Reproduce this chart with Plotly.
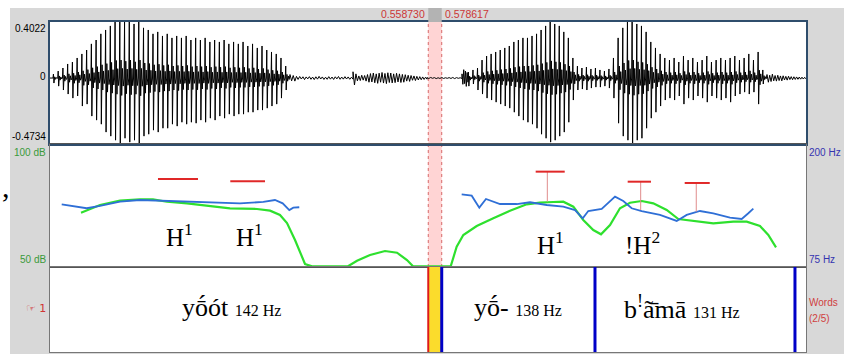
import plotly.graph_objects as go

# ---------------- data ----------------
T_VIEW = (0.0, 1.11669)                 # visible time window (s)
SEL = (0.558730, 0.578617)              # cursor selection (s)
WAVE_RANGE = (-0.4734, 0.4022)
DB_RANGE = (50, 100)
HZ_RANGE = (75, 200)

# voiced stretches of the waveform: (start, end) and per-period (peak, trough) amplitudes
seg_a_t = (0.0044, 0.3545)
seg_a_amp = [(0.029, 0.036), (0.050, 0.058), (0.072, 0.086), (0.101, 0.115), (0.115, 0.144),
             (0.144, 0.129), (0.173, 0.201), (0.201, 0.187), (0.245, 0.273), (0.273, 0.302),
             (0.317, 0.331), (0.345, 0.388), (0.374, 0.417), (0.420, 0.446), (0.430, 0.480),
             (0.403, 0.432), (0.430, 0.460), (0.388, 0.446), (0.430, 0.490), (0.360, 0.417),
             (0.345, 0.403), (0.317, 0.374), (0.331, 0.388), (0.302, 0.360), (0.317, 0.360),
             (0.288, 0.331), (0.302, 0.345), (0.288, 0.317), (0.302, 0.331), (0.273, 0.317),
             (0.288, 0.324), (0.273, 0.302), (0.288, 0.317), (0.259, 0.288), (0.273, 0.302),
             (0.259, 0.273), (0.273, 0.288), (0.245, 0.259), (0.259, 0.273), (0.245, 0.259),
             (0.259, 0.259), (0.230, 0.245), (0.245, 0.245), (0.216, 0.230), (0.230, 0.230),
             (0.201, 0.216), (0.187, 0.201), (0.173, 0.187), (0.144, 0.144), (0.086, 0.086)]
seg_f_t = (0.6174, 0.7784)
seg_f_amp = [(0.043, 0.058), (0.058, 0.043), (0.072, 0.086), (0.129, 0.115), (0.158, 0.144),
             (0.173, 0.158), (0.187, 0.173), (0.201, 0.187), (0.216, 0.201), (0.230, 0.216),
             (0.259, 0.245), (0.273, 0.273), (0.288, 0.302), (0.288, 0.317), (0.302, 0.331),
             (0.317, 0.360), (0.345, 0.403), (0.374, 0.432), (0.410, 0.460), (0.388, 0.446),
             (0.374, 0.417), (0.331, 0.388), (0.288, 0.317), (0.144, 0.158)]
seg_g_t = (0.7784, 0.8316)
seg_g_amp = [(0.086, 0.086), (0.072, 0.079), (0.079, 0.086), (0.065, 0.072),
             (0.072, 0.065), (0.058, 0.065), (0.050, 0.058), (0.065, 0.072)]
seg_h_t = (0.8316, 1.0591)
seg_h_amp = [(0.144, 0.144), (0.288, 0.324), (0.360, 0.417), (0.420, 0.446), (0.430, 0.475),
             (0.388, 0.446), (0.374, 0.432), (0.331, 0.360), (0.259, 0.288), (0.216, 0.245),
             (0.173, 0.201), (0.144, 0.158), (0.129, 0.144), (0.144, 0.158), (0.115, 0.129),
             (0.158, 0.187), (0.129, 0.144), (0.144, 0.158), (0.115, 0.129), (0.129, 0.144),
             (0.158, 0.173), (0.115, 0.129), (0.129, 0.144), (0.144, 0.158), (0.129, 0.144),
             (0.144, 0.173), (0.158, 0.129), (0.129, 0.115), (0.144, 0.101), (0.173, 0.115),
             (0.129, 0.101), (0.187, 0.187), (0.058, 0.043)]

# unvoiced / silent stretches: (start, end) and raw sample values
seg_b_t = (0.3545, 0.4476)
seg_b_val = [0.025, -0.020, 0.018, -0.022, 0.012, -0.010, 0.011, -0.007, 0.009, -0.011,
             0.008, -0.006, 0.010, -0.009, 0.007, -0.011, 0.009, -0.008, 0.012, -0.007,
             0.008, -0.010, 0.006, -0.009, 0.010, -0.008, 0.007, -0.010, 0.009, -0.006,
             0.011, -0.009, 0.007, -0.008, 0.010, -0.007, 0.008, -0.009, 0.006, -0.008]
seg_c_t = (0.4476, 0.5569)
seg_c_val = [0.045, -0.050, 0.030, -0.020, 0.015, -0.018, 0.020, -0.015, 0.018, -0.022,
             0.025, -0.030, 0.032, -0.028, 0.036, -0.034, 0.030, -0.038, 0.035, -0.030,
             0.040, -0.036, 0.033, -0.040, 0.038, -0.032, 0.036, -0.035, 0.030, -0.033,
             0.034, -0.028, 0.030, -0.032, 0.026, -0.030, 0.024, -0.022, 0.020, -0.024,
             0.018, -0.016, 0.015, -0.018, 0.012, -0.014, 0.010, -0.012, 0.008, -0.010,
             0.006, -0.008]
seg_d_t = (0.5569, 0.6086)
seg_d_val = [0.003, -0.003, 0.004, -0.002, 0.003, -0.004, 0.002, -0.003, 0.004, -0.003,
             0.002, -0.002, 0.003, -0.003, 0.004, -0.004, 0.003, -0.002, 0.002, -0.003]
seg_e_t = (0.6086, 0.6174)
seg_e_val = [0.030, -0.045, 0.060, -0.040, 0.050, -0.060, 0.040, -0.030]
seg_i_t = (1.0591, 1.1167)
seg_i_val = [0.025, -0.030, 0.020, -0.025, 0.028, -0.020, 0.018, -0.022, 0.020, -0.018,
             0.015, -0.020, 0.016, -0.014, 0.012, -0.015, 0.013, -0.011, 0.010, -0.012,
             0.009, -0.010, 0.008, -0.009, 0.007, -0.008, 0.006, -0.007, 0.005, -0.006]

# intensity (dB)
int_t = [0.0458, 0.0739, 0.1034, 0.1329, 0.1521, 0.1728, 0.2024, 0.2319, 0.2659, 0.3058,
         0.3250, 0.3397, 0.3501, 0.3619, 0.3767, 0.3870, 0.4402, 0.4535, 0.4727, 0.4948,
         0.5126, 0.5273, 0.5362, 0.5919, 0.6007, 0.6105, 0.6303, 0.6548, 0.6795, 0.7041,
         0.7238, 0.7434, 0.7582, 0.7730, 0.7877, 0.8025, 0.8139, 0.8272, 0.8419, 0.8567,
         0.8740, 0.8911, 0.9109, 0.9281, 0.9502, 0.9798, 1.0093, 1.0291, 1.0487, 1.0610,
         1.0724]
int_db = [72.07, 75.20, 76.95, 77.52, 77.52, 76.54, 75.89, 74.92, 73.86, 73.58,
          72.89, 71.14, 67.89, 60.98, 51.22, 50.30, 50.30, 52.56, 54.88, 56.50,
          55.81, 52.85, 50.30, 50.30, 58.25, 63.00, 66.67, 69.80, 72.89, 75.49,
          76.14, 76.42, 76.54, 74.51, 69.10, 65.04, 63.29, 67.07, 73.86, 76.14,
          76.83, 75.89, 73.17, 69.51, 68.70, 67.76, 68.41, 68.41, 66.67, 63.00,
          58.00]

# pitch (Hz), two voiced stretches
f0_t_1 = [0.0173, 0.0295, 0.0542, 0.0739, 0.1034, 0.1329, 0.1625, 0.1920, 0.2216, 0.2511,
          0.2806, 0.3151, 0.3323, 0.3437, 0.3535, 0.3594, 0.3682]
f0_hz_1 = [138.7, 137.3, 134.7, 137.0, 141.4, 143.1, 142.4, 141.4, 140.4, 139.7,
           139.7, 141.1, 143.1, 139.7, 132.9, 135.3, 135.7]
f0_t_2 = [0.6081, 0.6229, 0.6341, 0.6440, 0.6647, 0.6894, 0.7090, 0.7337, 0.7582, 0.7755,
          0.7869, 0.7951, 0.8149, 0.8272, 0.8346, 0.8468, 0.8592, 0.8740, 0.9010, 0.9257,
          0.9405, 0.9601, 0.9798, 1.0044, 1.0217, 1.0315, 1.0389]
f0_hz_2 = [148.9, 147.5, 135.3, 144.1, 139.0, 139.0, 140.8, 138.0, 136.3, 132.9,
           124.5, 131.9, 134.0, 141.4, 146.5, 142.1, 134.7, 131.9, 127.9, 121.8,
           127.9, 131.9, 129.6, 125.1, 123.8, 129.6, 134.3]

# tone targets (Hz): bar start, bar end, level, stem time (None = no stem), stem bottom
tgt_t0 = [0.1595, 0.2663, 0.7174, 0.8533, 0.9375]
tgt_t1 = [0.2186, 0.3176, 0.7603, 0.8877, 0.9745]
tgt_hz = [164.4, 162.1, 171.9, 161.7, 160.4]
stem_t = [None, None, 0.7346, 0.8725, 0.9546]
stem_lo = [None, None, 141.4, 132.9, 131.2]

tone_text = ["H<sup>1</sup>", "H<sup>1</sup>", "H<sup>1</sup>", "!H<sup>2</sup>"]
tone_t = [0.192, 0.294, 0.740, 0.8752]
tone_hz = [107.5, 107.5, 98.9, 98.9]

# word tier
bound_t = [0.578617, 0.8050, 1.1004]
word_text = ["yṓót", "yṓ-", "b<sup>!</sup>ã̄mā"]
word_hz = ["142 Hz", "138 Hz", "131 Hz"]
word_t = [0.2688, 0.6915, 0.9335]

# ---------------- build ----------------
W, H = 849, 354
def px(x): return x / W
def py(y): return 1 - y / H

def voiced(seg_t, amps):
    t0, t1 = seg_t
    n = len(amps)
    P = (t1 - t0) / n
    fr = [0.0, 0.10, 0.20, 0.36, 0.50, 0.66, 0.82]
    xs, ys = [], []
    for i, (top, bot) in enumerate(amps):
        vals = [0.0, top, -bot, 0.30 * top, -0.26 * bot, 0.16 * top, -0.12 * bot]
        for f, v in zip(fr, vals):
            xs.append(t0 + (i + f) * P)
            ys.append(v)
    return xs, ys

def raw(seg_t, vals):
    t0, t1 = seg_t
    n = len(vals)
    return [t0 + (t1 - t0) * k / (n - 1) for k in range(n)], list(vals)

wx, wy = [0.0], [0.0]
for part in [voiced(seg_a_t, seg_a_amp), raw(seg_b_t, seg_b_val), raw(seg_c_t, seg_c_val),
             raw(seg_d_t, seg_d_val), raw(seg_e_t, seg_e_val), voiced(seg_f_t, seg_f_amp),
             voiced(seg_g_t, seg_g_amp), voiced(seg_h_t, seg_h_amp), raw(seg_i_t, seg_i_val)]:
    wx += part[0]
    wy += part[1]

fig = go.Figure()
fig.add_trace(go.Scatter(x=wx, y=wy, mode="lines", line=dict(color="black", width=1),
                         xaxis="x", yaxis="y", hoverinfo="skip"))
fig.add_trace(go.Scatter(x=f0_t_1 + [None] + f0_t_2, y=f0_hz_1 + [None] + f0_hz_2,
                         mode="lines", line=dict(color="#2f6fd6", width=1.8),
                         xaxis="x2", yaxis="y4", hoverinfo="skip"))
fig.add_trace(go.Scatter(x=int_t, y=int_db, mode="lines", line=dict(color="#2ee02e", width=2.2),
                         xaxis="x2", yaxis="y2", hoverinfo="skip"))
sx, sy = [], []
for t, lo, hz in zip(stem_t, stem_lo, tgt_hz):
    if t is not None:
        sx += [t, t, None]
        sy += [hz, lo, None]
fig.add_trace(go.Scatter(x=sx, y=sy, mode="lines", line=dict(color="#e08c8c", width=1),
                         xaxis="x2", yaxis="y4", hoverinfo="skip"))
bx, by = [], []
for a, b, hz in zip(tgt_t0, tgt_t1, tgt_hz):
    bx += [a, b, None]
    by += [hz, hz, None]
fig.add_trace(go.Scatter(x=bx, y=by, mode="lines", line=dict(color="#e02828", width=2),
                         xaxis="x2", yaxis="y4", hoverinfo="skip"))

xdom = [px(50), px(806)]
ax_common = dict(showticklabels=False, ticks="", showgrid=False, zeroline=False, fixedrange=True)
fig.update_layout(
    width=W, height=H, margin=dict(l=0, r=0, t=0, b=0),
    paper_bgcolor="white", plot_bgcolor="white", showlegend=False,
    xaxis=dict(domain=xdom, range=list(T_VIEW), anchor="y", showline=True, mirror=True,
               linecolor="#2f4d6c", linewidth=1.5, **ax_common),
    yaxis=dict(domain=[py(144), py(22)], range=list(WAVE_RANGE), anchor="x", showline=True,
               mirror=True, linecolor="#2f4d6c", linewidth=1.5, **ax_common),
    xaxis2=dict(domain=xdom, range=list(T_VIEW), anchor="y2", matches="x", showline=True,
                mirror=True, linecolor="#555555", linewidth=1, **ax_common),
    yaxis2=dict(domain=[py(267), py(144)], range=list(DB_RANGE), anchor="x2", showline=True,
                mirror=True, linecolor="#777777", linewidth=1, **ax_common),
    yaxis4=dict(range=list(HZ_RANGE), overlaying="y2", anchor="x2", visible=False, fixedrange=True),
    xaxis3=dict(domain=xdom, range=list(T_VIEW), anchor="y3", matches="x", showline=True,
                mirror=True, linecolor="#777777", linewidth=1, **ax_common),
    yaxis3=dict(domain=[py(352), py(267)], range=[0, 1], anchor="x3", showline=True,
                mirror=True, linecolor="#777777", linewidth=1, **ax_common),
)

shapes = []
# grey Praat window background, white drawing area, cursor box in the top bar
shapes.append(dict(type="rect", xref="paper", yref="paper", x0=px(10), x1=px(844), y0=0, y1=py(8),
                   fillcolor="#d8d8d8", line=dict(width=0), layer="below"))
shapes.append(dict(type="rect", xref="paper", yref="paper", x0=px(50), x1=px(806), y0=py(352),
                   y1=py(22), fillcolor="white", line=dict(width=0), layer="below"))
# pink selection across waveform + analysis panel
shapes.append(dict(type="rect", xref="x", yref="paper", x0=SEL[0], x1=SEL[1], y0=py(267), y1=py(22),
                   fillcolor="#ffd4d4", line=dict(width=0), layer="below"))
for t in SEL:
    shapes.append(dict(type="line", xref="x", yref="paper", x0=t, x1=t, y0=py(267), y1=py(22),
                       line=dict(color="#d86a6a", width=1, dash="dot"), layer="below"))
shapes.append(dict(type="rect", xref="x", yref="paper", x0=SEL[0], x1=SEL[1], y0=py(22), y1=py(8),
                   fillcolor="#b3b3b3", line=dict(width=0)))
# word tier: selected interval and boundaries
shapes.append(dict(type="rect", xref="x3", yref="y3 domain", x0=SEL[0], x1=SEL[1], y0=0, y1=1,
                   fillcolor="#fbdc2c", line=dict(width=0)))
shapes.append(dict(type="line", xref="x3", yref="y3 domain", x0=SEL[0], x1=SEL[0], y0=0, y1=1,
                   line=dict(color="#dd1a1a", width=2)))
for t in bound_t:
    shapes.append(dict(type="line", xref="x3", yref="y3 domain", x0=t, x1=t, y0=0, y1=1,
                       line=dict(color="#0000c8", width=3)))
fig.update_layout(shapes=shapes)

ann = []
sans = "Liberation Sans, Arial, sans-serif"
serif = "Liberation Serif, Times New Roman, serif"
def lab(text, x, y, color, anchor="right", size=10, family=sans):
    ann.append(dict(text=text, xref="paper", yref="paper", x=px(x), y=py(y), showarrow=False,
                    xanchor=anchor, yanchor="middle", font=dict(family=family, size=size, color=color)))
lab("0.4022", 48, 29, "black")
lab("0", 48, 77, "black")
lab("-0.4734", 48, 137, "black")
lab("100 dB", 48, 152, "#3a9a3a")
lab("50 dB", 48, 259, "#3a9a3a")
lab("☞ 1", 48, 308, "#d03434", "right", 11, "DejaVu Sans, sans-serif")
lab("200 Hz", 807, 152, "#3434b0", "left")
lab("75 Hz", 807, 259, "#3434b0", "left")
lab("Words", 807, 302, "#d04040", "left")
lab("(2/5)", 807, 318, "#d04040", "left")
lab("%.6f" % SEL[0], 427, 14, "#cc3636", "right", 10.5)
lab("%.6f" % SEL[1], 443, 14, "#cc3636", "left", 10.5)
ann.append(dict(text=",", xref="paper", yref="paper", x=px(0), y=py(186), showarrow=False,
                xanchor="left", yanchor="middle", font=dict(family=serif, size=30, color="black")))
for txt, t, hz in zip(tone_text, tone_t, tone_hz):
    ann.append(dict(text=txt, xref="x2", yref="y4", x=t, y=hz, showarrow=False,
                    xanchor="center", yanchor="middle", font=dict(family=serif, size=25, color="black")))
for w, hz, t in zip(word_text, word_hz, word_t):
    ann.append(dict(text=w + " <span style='font-size:16px'>" + hz + "</span>", xref="x3", yref="y3",
                    x=t, y=0.52, showarrow=False, xanchor="center", yanchor="middle",
                    font=dict(family=serif, size=26, color="black")))
fig.update_layout(annotations=ann)

fig.write_html("out.html")
